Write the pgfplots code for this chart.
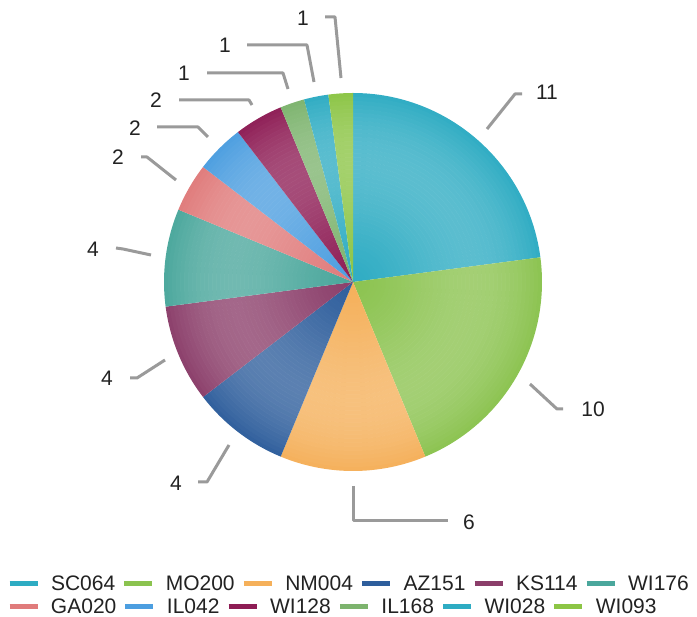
\documentclass[border=0pt]{standalone}
\usepackage{fontspec}
\setmainfont{Liberation Sans}
\usepackage{pgfplots}
\usepackage{pgfplotstable}
\pgfplotsset{compat=1.18}

\definecolor{cSC}{HTML}{2EACC3}
\definecolor{cMO}{HTML}{8BC34F}
\definecolor{cNM}{HTML}{F5B05A}
\definecolor{cAZ}{HTML}{2E5E9C}
\definecolor{cKS}{HTML}{8B3E6A}
\definecolor{cWIa}{HTML}{4AA79C}
\definecolor{cGA}{HTML}{E07B7B}
\definecolor{cIL}{HTML}{4C9EE0}
\definecolor{cWIb}{HTML}{8E1D55}
\definecolor{cILb}{HTML}{7DB46E}
\definecolor{cWIc}{HTML}{2EACC3}
\definecolor{cWId}{HTML}{8CC545}
\definecolor{leadgray}{HTML}{9A9A9A}
\definecolor{txt}{HTML}{222222}

\pgfplotstableread{
name value col
SC064 11 cSC
MO200 10 cMO
NM004 6 cNM
AZ151 4 cAZ
KS114 4 cKS
WI176 4 cWIa
GA020 2 cGA
IL042 2 cIL
WI128 2 cWIb
IL168 1 cILb
WI028 1 cWIc
WI093 1 cWId
}\piedata

\begin{document}
\begin{tikzpicture}
\pgfplotsset{base/.style={
  x=1pt, y=1pt, xmin=0, xmax=697, ymin=0, ymax=617, y dir=reverse,
  hide axis, clip=false,
  legend image code/.code={\draw[line width=5pt,##1] (0pt,0pt) -- (28pt,0pt);},
  legend style={draw=none, fill=none, anchor=west, inner sep=0pt, outer sep=0pt,
    legend columns=6, nodes={inner sep=0pt, outer sep=0pt, text=txt},
    font=\fontsize{21}{25}\selectfont,
    /tikz/every odd column/.append style={column sep=11pt},
    /tikz/every even column/.append style={column sep=6.6pt}},
}}
\begin{axis}[base, legend style={at={(axis cs:7,584)}}]
  \coordinate (C) at (axis cs:353,282);
  \coordinate (LL) at (axis cs:0,617);
  \coordinate (UR) at (axis cs:697,0);
  \def\total{0}
  \pgfplotsforeachungrouped \i in {0,...,11}{%
    \pgfplotstablegetelem{\i}{value}\of\piedata
    \pgfmathsetmacro\total{\total+\pgfplotsretval}%
  }
  \def\cum{0}
  \pgfplotsforeachungrouped \i in {0,...,11}{%
    \pgfplotstablegetelem{\i}{value}\of\piedata \let\sv\pgfplotsretval
    \pgfplotstablegetelem{\i}{col}\of\piedata \let\sc\pgfplotsretval
    \pgfmathsetmacro\aa{90-360*(\cum/\total)}%
    \pgfmathsetmacro\ab{90-360*((\cum+\sv)/\total)}%
    \edef\temp{\noexpand\fill[\sc] (axis cs:353,282) -- ++(\aa:189pt) arc[start angle=\aa, end angle=\ab, radius=189pt] -- cycle;}%
    \temp
    \pgfmathsetmacro\cum{\cum+\sv}%
  }
  \addlegendimage{cSC}
  \addlegendimage{cMO}
  \addlegendimage{cNM}
  \addlegendimage{cAZ}
  \addlegendimage{cKS}
  \addlegendimage{cWIa}
  \legend{SC064,MO200,NM004,AZ151,KS114,WI176}
  % leader lines and labels
  \tikzset{lead/.style={draw=leadgray, line width=3pt, line join=round},
           lab/.style={text=txt, font=\fontsize{21}{25}\selectfont, inner sep=0pt}}
  \draw[lead] (axis cs:487,129) -- (axis cs:515,94) -- (axis cs:522,94);
  \node[lab] at (axis cs:547,92) {11};
  \draw[lead] (axis cs:530,384) -- (axis cs:557,409) -- (axis cs:563,409);
  \node[lab] at (axis cs:593,409) {10};
  \draw[lead] (axis cs:353,486) -- (axis cs:353,521) -- (axis cs:448,521);
  \node[lab] at (axis cs:469,522) {6};
  \draw[lead] (axis cs:229,445) -- (axis cs:207,482) -- (axis cs:198,482);
  \node[lab] at (axis cs:176,483) {4};
  \draw[lead] (axis cs:165,360) -- (axis cs:137,378) -- (axis cs:130,378);
  \node[lab] at (axis cs:107,378) {4};
  \draw[lead] (axis cs:151,255) -- (axis cs:123,249) -- (axis cs:116,248);
  \node[lab] at (axis cs:93,249) {4};
  \draw[lead] (axis cs:176,180) -- (axis cs:147,157) -- (axis cs:141,157);
  \node[lab] at (axis cs:118,157) {2};
  \draw[lead] (axis cs:208,137) -- (axis cs:198,127) -- (axis cs:157,127);
  \node[lab] at (axis cs:135,128) {2};
  \draw[lead] (axis cs:252,105) -- (axis cs:249,100) -- (axis cs:179,100);
  \node[lab] at (axis cs:156,100) {2};
  \draw[lead] (axis cs:288,89) -- (axis cs:283,73) -- (axis cs:207,73);
  \node[lab] at (axis cs:184,73) {1};
  \draw[lead] (axis cs:314,82) -- (axis cs:307,45) -- (axis cs:247,45);
  \node[lab] at (axis cs:225,45) {1};
  \draw[lead] (axis cs:341,78) -- (axis cs:335,17) -- (axis cs:325,17);
  \node[lab] at (axis cs:303,18) {1};
\end{axis}
% gloss rings over the pie (decoration only)
\foreach \k in {0,...,47}{
  \pgfmathsetmacro\ra{189-4*\k}
  \pgfmathsetmacro\rb{max(189-4*(\k+1),0)}
  \pgfmathsetmacro\t{(\ra+\rb)/378}
  \pgfmathsetmacro\o{0.2*sin(180*(\t)^1.5)+0.015}
  \fill[white, opacity=\o, even odd rule] (C) circle[radius=\ra pt] (C) circle[radius=\rb pt];
}
\begin{axis}[base, legend style={at={(axis cs:7,607)}}]
  \addlegendimage{cGA}
  \addlegendimage{cIL}
  \addlegendimage{cWIb}
  \addlegendimage{cILb}
  \addlegendimage{cWIc}
  \addlegendimage{cWId}
  \legend{GA020,IL042,WI128,IL168,WI028,WI093}
\end{axis}
\pgfresetboundingbox
\path (LL) rectangle (UR);
\end{tikzpicture}
\end{document}
